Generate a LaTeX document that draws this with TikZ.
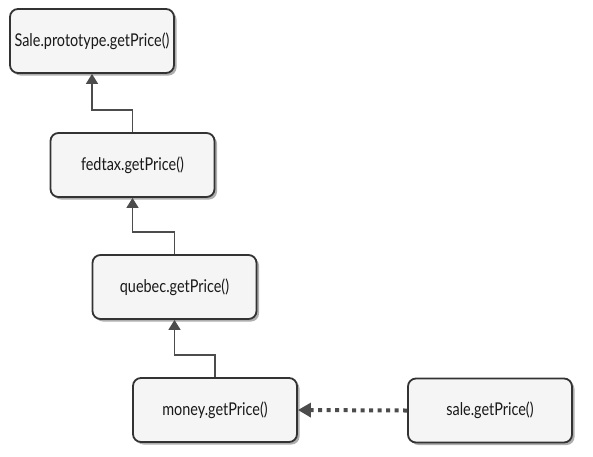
\documentclass[tikz,border=0pt]{standalone}
\usepackage{fontspec}
\setmainfont[FakeStretch=0.82]{Lato}
\usepackage{tikz}
\usetikzlibrary{arrows.meta,shadows}

\begin{document}
\begin{tikzpicture}[x=1pt, y=-1pt,
    main/.style = {draw=black!80, line width=1.8pt, rounded corners=8pt, fill=black!4,
        minimum width=164pt, minimum height=64pt, font=\fontsize{17.6}{20}\selectfont,
        text=black!90, drop shadow={shadow xshift=2.5pt, shadow yshift=-2.5pt, fill=black!45, opacity=0.7}},
    link/.style = {draw=black!70, line width=1.5pt, -{Triangle[length=10pt,width=12pt]}},
    delegate/.style = {draw=black!70, line width=4pt, dash pattern=on 4pt off 4.5pt,
        -{Triangle[length=13pt,width=14pt]}}]
    \useasboundingbox[fill=white] (0,0) rectangle (593,456);

    \node[main] (proto) at (92,41) {Sale.prototype.getPrice()};
    \node[main] (fedtax) at (132.5,165) {fedtax.getPrice()};
    \node[main] (quebec) at (174.5,287) {quebec.getPrice()};
    \node[main] (money) at (215,410) {money.getPrice()};
    \node[main] (sale) at (490,410.5) {sale.getPrice()};

    \draw[link] (fedtax.north) -- ++(0,-22) -| (proto.south);
    \draw[link] (quebec.north) -- ++(0,-22) -| (fedtax.south);
    \draw[link] (money.north) -- ++(0,-22) -| (quebec.south);
    \draw[delegate] (sale.west) -- (money.east);
\end{tikzpicture}
\end{document}
